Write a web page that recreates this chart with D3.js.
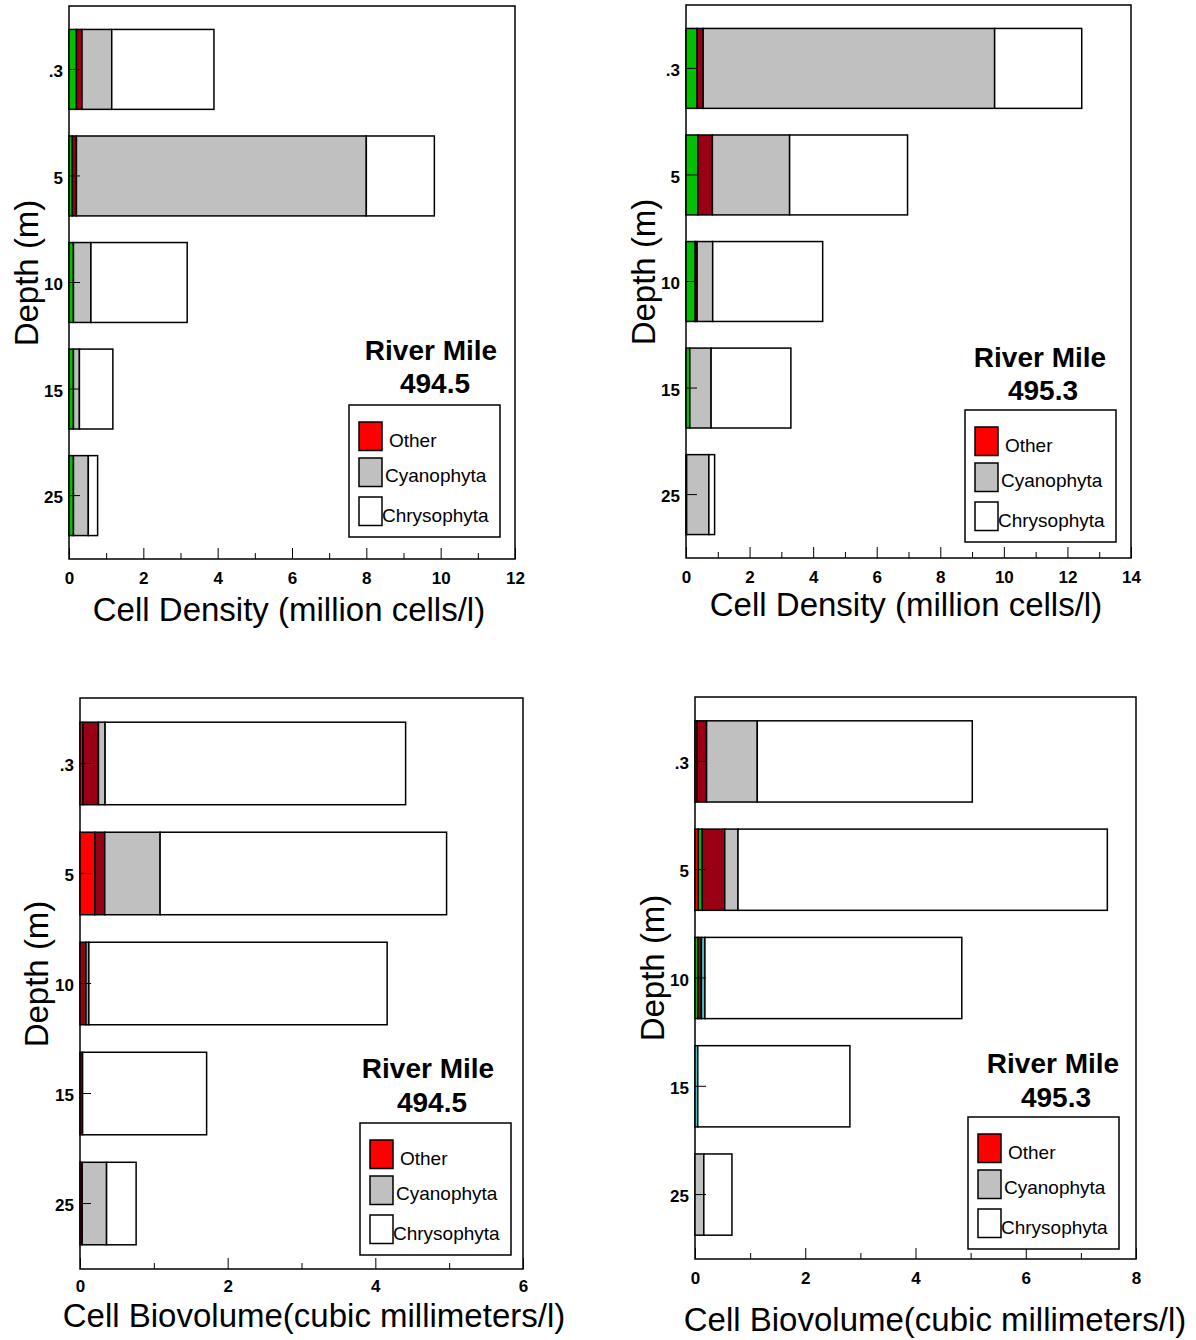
<!DOCTYPE html>
<html>
<head>
<meta charset="utf-8">
<script src="https://cdn.jsdelivr.net/npm/d3@7"></script>
<style>
  body { margin: 0; background: #fff; }
  text { font-family: "Liberation Sans", Arial, sans-serif; }
</style>
</head>
<body>
<div id="canvas"></div>
<script>
"use strict";

/* Data */
let depths = [".3", "5", "10", "15", "25"];
let groups = ["Other", "Chlorophyta", "Pyrrophyta", "Cryptophyta", "Cyanophyta", "Chrysophyta"];
let groupColors = ["#ff0000", "#00c000", "#990014", "#33cccc", "#c0c0c0", "#ffffff"];
let legendItems = ["Other", "Cyanophyta", "Chrysophyta"];
let legendColors = ["#ff0000", "#c0c0c0", "#ffffff"];

// rows follow depths, columns follow groups
let density4945 = [
  [0, 0.20, 0.15, 0, 0.80, 2.75],
  [0, 0.09, 0.11, 0, 7.80, 1.83],
  [0, 0.12, 0, 0, 0.47, 2.59],
  [0, 0.12, 0, 0, 0.16, 0.90],
  [0, 0.12, 0, 0, 0.40, 0.25]
];
let density4953 = [
  [0, 0.35, 0.19, 0, 9.17, 2.74],
  [0, 0.37, 0.46, 0, 2.43, 3.71],
  [0, 0.29, 0.06, 0, 0.49, 3.46],
  [0, 0.12, 0, 0, 0.67, 2.51],
  [0, 0, 0, 0.02, 0.70, 0.18]
];
let biovol4945 = [
  [0.04, 0, 0.21, 0, 0.09, 4.07],
  [0.20, 0, 0.135, 0, 0.75, 3.88],
  [0, 0, 0.08, 0.04, 0, 4.04],
  [0, 0, 0.035, 0, 0, 1.68],
  [0, 0, 0.03, 0, 0.33, 0.40]
];
let biovol4953 = [
  [0.04, 0, 0.17, 0, 0.92, 3.90],
  [0.06, 0.07, 0.41, 0, 0.24, 6.70],
  [0, 0.05, 0.065, 0.065, 0, 4.66],
  [0, 0, 0, 0.05, 0, 2.76],
  [0, 0, 0, 0, 0.16, 0.51]
];

let densityLabel = "Cell Density (million cells/l)";
let biovolLabel = "Cell Biovolume(cubic millimeters/l)";

/* SVG setup */
let svgWidth = 1196;
let svgHeight = 1340;

let svg = d3.select("#canvas")
  .append("svg")
  .attr("width", svgWidth)
  .attr("height", svgHeight);

/* Panel layouts */
let panels = [
  { data: density4945, mile: "494.5", xMax: 12, xLabel: densityLabel,
    left: 69, right: 515, top: 6, bottom: 559, pad: 13,
    t1: [431, 360], t2: [435, 393], leg: [349, 405],
    yl: [38, 273], xl: [289, 621] },
  { data: density4953, mile: "495.3", xMax: 14, xLabel: densityLabel,
    left: 686, right: 1131, top: 5, bottom: 558, pad: 13,
    t1: [1040, 367], t2: [1043, 400], leg: [965, 410],
    yl: [655, 272], xl: [906, 616] },
  { data: biovol4945, mile: "494.5", xMax: 6, xLabel: biovolLabel,
    left: 80, right: 523, top: 698, bottom: 1269, pad: 11,
    t1: [428, 1078], t2: [432, 1112], leg: [360, 1123],
    yl: [48, 974], xl: [314, 1327] },
  { data: biovol4953, mile: "495.3", xMax: 8, xLabel: biovolLabel,
    left: 695, right: 1136, top: 697, bottom: 1259, pad: 13,
    t1: [1053, 1073], t2: [1056, 1107], leg: [968, 1117],
    yl: [664, 968], xl: [935, 1331] }
];

function drawPanel(p) {
  let g = svg.append("g");

  let xScale = d3.scaleLinear().domain([0, p.xMax]).range([p.left, p.right]);
  let yScale = d3.scaleBand().domain(depths).range([p.top, p.bottom])
    .paddingInner(0.25).paddingOuter(0.22);

  // table for d3.stack
  let table = depths.map(function (d, i) {
    let row = { depth: d };
    groups.forEach(function (k, j) { row[k] = p.data[i][j]; });
    return row;
  });
  let series = d3.stack().keys(groups)(table);

  /* Frame */
  g.append("rect")
    .attr("x", p.left)
    .attr("y", p.top)
    .attr("width", p.right - p.left)
    .attr("height", p.bottom - p.top)
    .attr("fill", "none")
    .attr("stroke", "#000")
    .attr("stroke-width", 1.5);

  /* Bars */
  series.forEach(function (s, j) {
    g.selectAll(null)
      .data(s.filter(function (d) { return d[1] - d[0] > 0; }))
      .enter()
      .append("rect")
      .attr("x", function (d) { return xScale(d[0]); })
      .attr("y", function (d) { return yScale(d.data.depth); })
      .attr("width", function (d) { return xScale(d[1]) - xScale(d[0]); })
      .attr("height", yScale.bandwidth())
      .attr("fill", groupColors[j])
      .attr("stroke", "#000")
      .attr("stroke-width", 1.5);
  });

  /* X axis: major + minor ticks pointing inward */
  let xMinor = d3.axisBottom(xScale)
    .tickValues(d3.range(1, p.xMax, 2))
    .tickSize(-6)
    .tickFormat("");
  g.append("g")
    .attr("transform", "translate(0," + p.bottom + ")")
    .call(xMinor)
    .call(function (a) { a.select(".domain").remove(); });

  let xAxis = d3.axisBottom(xScale)
    .tickValues(d3.range(0, p.xMax + 1, 2))
    .tickFormat(d3.format("d"))
    .tickSize(-11)
    .tickPadding(p.pad);
  let xg = g.append("g")
    .attr("transform", "translate(0," + p.bottom + ")")
    .call(xAxis);
  xg.select(".domain").remove();
  xg.selectAll("text")
    .style("font-family", "'Liberation Sans', Arial, sans-serif")
    .style("font-size", "17px")
    .style("font-weight", "bold")
    .attr("fill", "#000");

  /* Y axis */
  let yAxis = d3.axisLeft(yScale).tickSize(-11).tickPadding(6);
  let yg = g.append("g")
    .attr("transform", "translate(" + p.left + ",0)")
    .call(yAxis);
  yg.select(".domain").remove();
  yg.selectAll("text")
    .attr("dy", "0.45em")
    .style("font-family", "'Liberation Sans', Arial, sans-serif")
    .style("font-size", "17px")
    .style("font-weight", "bold")
    .attr("fill", "#000");

  /* Axis titles */
  g.append("text")
    .attr("x", p.xl[0])
    .attr("y", p.xl[1])
    .attr("text-anchor", "middle")
    .style("font-size", "33px")
    .text(p.xLabel);

  g.append("text")
    .attr("transform", "translate(" + p.yl[0] + "," + p.yl[1] + ") rotate(-90)")
    .attr("text-anchor", "middle")
    .style("font-size", "33px")
    .text("Depth (m)");

  /* River mile title */
  g.append("text")
    .attr("x", p.t1[0])
    .attr("y", p.t1[1])
    .attr("text-anchor", "middle")
    .style("font-size", "28px")
    .style("font-weight", "bold")
    .text("River Mile");
  g.append("text")
    .attr("x", p.t2[0])
    .attr("y", p.t2[1])
    .attr("text-anchor", "middle")
    .style("font-size", "28px")
    .style("font-weight", "bold")
    .text(p.mile);

  /* Legend (boxed) */
  let lx = p.leg[0];
  let ly = p.leg[1];
  g.append("rect")
    .attr("x", lx)
    .attr("y", ly)
    .attr("width", 151)
    .attr("height", 132)
    .attr("fill", "#fff")
    .attr("stroke", "#000")
    .attr("stroke-width", 1.5);

  let swatchTop = [17, 53, 92];
  let textBase = [41.5, 77, 117];
  let textX = [40, 36, 33];
  for (let i = 0; i < legendItems.length; i++) {
    g.append("rect")
      .attr("x", lx + 10)
      .attr("y", ly + swatchTop[i])
      .attr("width", 23)
      .attr("height", 28.5)
      .attr("fill", legendColors[i])
      .attr("stroke", "#000")
      .attr("stroke-width", 1.5);
    g.append("text")
      .attr("x", lx + textX[i])
      .attr("y", ly + textBase[i])
      .style("font-size", "19px")
      .text(legendItems[i]);
  }
}

panels.forEach(drawPanel);
</script>
</body>
</html>
